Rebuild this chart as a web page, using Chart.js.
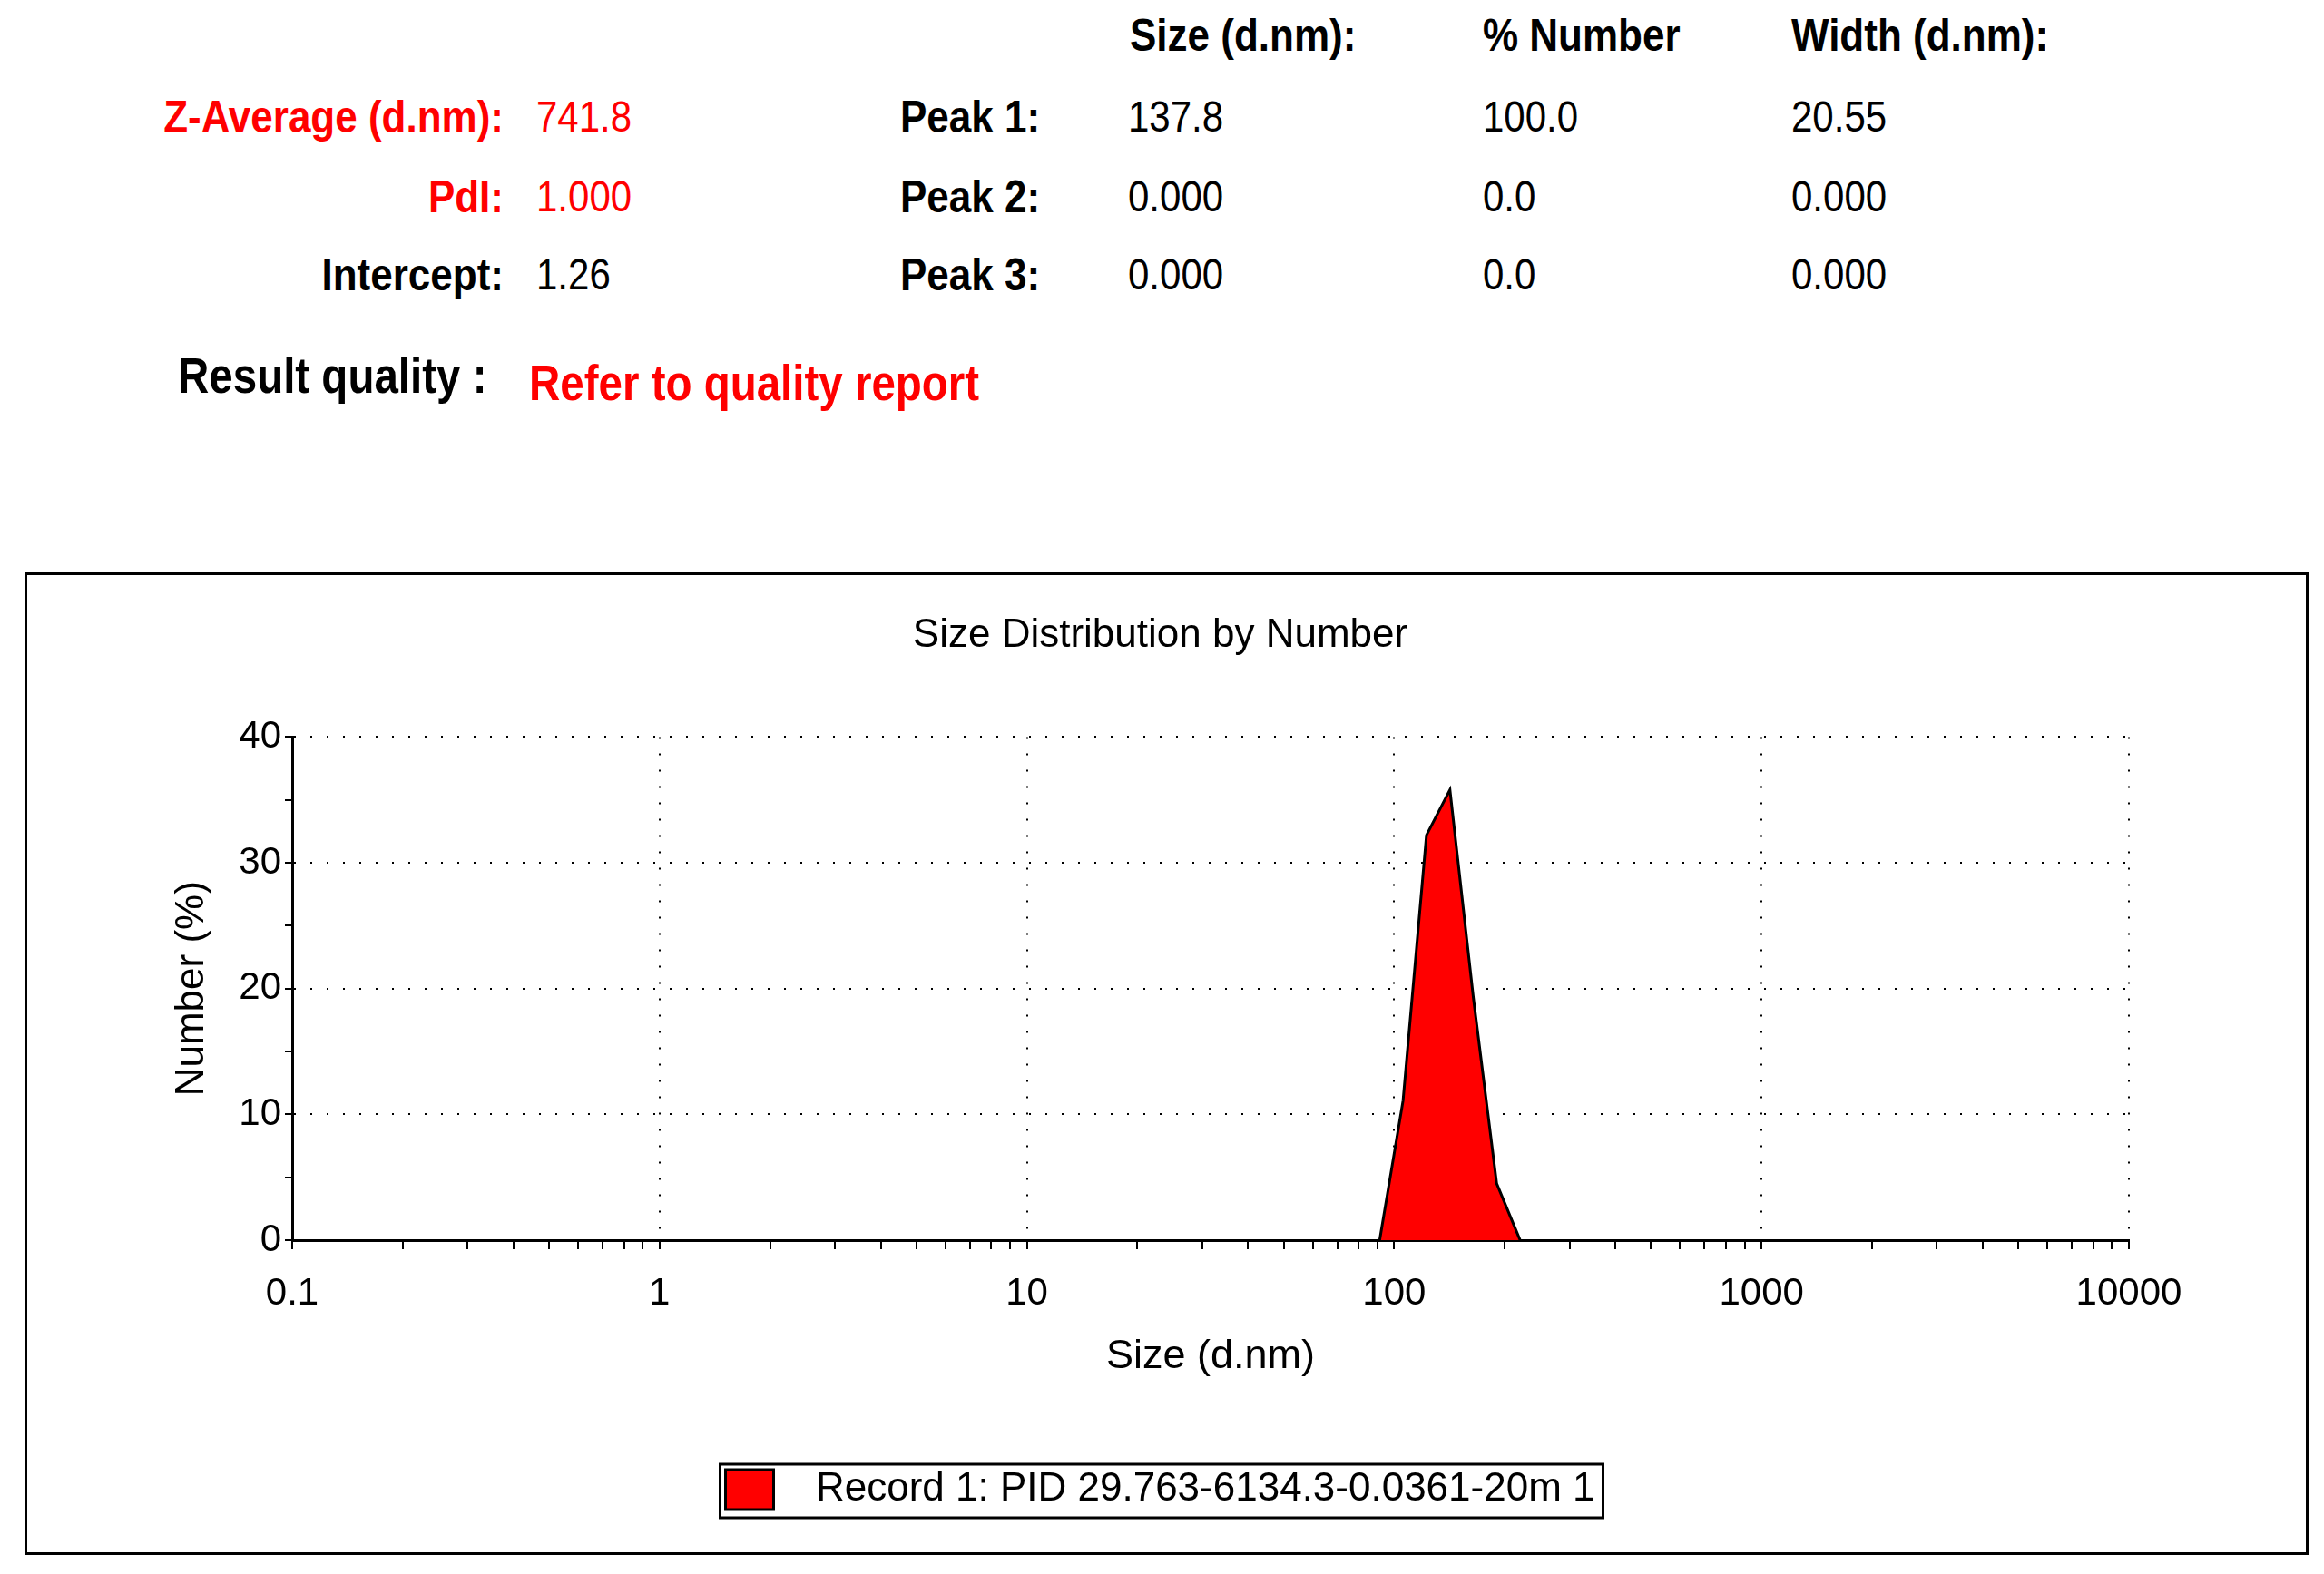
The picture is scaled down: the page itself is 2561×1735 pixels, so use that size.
<!DOCTYPE html>
<html>
<head>
<meta charset="utf-8">
<title>Size Distribution by Number</title>
<script src="https://cdn.jsdelivr.net/npm/chart.js@4.4.1/dist/chart.umd.min.js"></script>
<style>
  body { margin: 0; width: 2561px; height: 1735px; background: #fff; position: relative; overflow: hidden;
         font-family: "Liberation Sans", Arial, sans-serif; color: #000; }
  .t { position: absolute; line-height: 1; white-space: nowrap; font-size: 42px;
       transform: translateY(-50%) scaleY(1.15); }
  .b { font-weight: bold; font-size: 44px; }
  .red { color: #ff0000; }
  .big { font-size: 47.5px; }
  #frame { position: absolute; left: 27px; top: 631px; width: 2511px; height: 1077px; border: 3px solid #000; }
  #chart { display: block; }
</style>
</head>
<body>
<div id="frame"><canvas id="chart" width="2511" height="1077"></canvas></div>
<script>
// curve
const sizes = [91.28, 105.7, 122.4, 141.8, 164.2, 190.1, 220.2];   // d.nm
const numberPct = [0, 11.1, 32.2, 35.8, 19.3, 4.5, 0];            // Number (%)
const xTickLabels = [0.1, 1, 10, 100, 1000, 10000];
const yTickLabels = [0, 10, 20, 30, 40];
const recordLabel = 'Record 1: PID 29.763-6134.3-0.0361-20m 1';

// result table above the chart
const summaryNames = ['Z-Average (d.nm):', 'PdI:', 'Intercept:'];
const summaryValues = ['741.8', '1.000', '1.26'];
const summaryRed = [true, true, false];
const peakNames = ['Peak 1:', 'Peak 2:', 'Peak 3:'];
const peakSize = ['137.8', '0.000', '0.000'];
const peakNumber = ['100.0', '0.0', '0.0'];
const peakWidth = ['20.55', '0.000', '0.000'];

function addText(text, x, y, cls, alignRight) {
    const el = document.createElement('div');
    el.className = 't ' + (cls || '');
    el.textContent = text;
    el.style.top = y + 'px';
    if (alignRight) el.style.right = (2561 - x) + 'px';
    else el.style.left = x + 'px';
    document.body.appendChild(el);
}

addText('Size (d.nm):', 1245, 39, 'b');
addText('% Number', 1634, 39, 'b');
addText('Width (d.nm):', 1974, 39, 'b');

const rowY = [129, 217, 303];
rowY.forEach((y, i) => {
    const red = summaryRed[i] ? ' red' : '';
    addText(summaryNames[i], 555, y, 'b' + red, true);
    addText(summaryValues[i], 591, y, red);
    addText(peakNames[i], 992, y, 'b');
    addText(peakSize[i], 1243, y);
    addText(peakNumber[i], 1634, y);
    addText(peakWidth[i], 1974, y);
});

addText('Result quality :', 196, 414, 'b big');
addText('Refer to quality report', 583, 422, 'b big red');

// chart
const FONT = '"Liberation Sans", Arial, sans-serif';
const isDecade = v => Math.abs(Math.log10(v) - Math.round(Math.log10(v))) < 1e-6;

const legendFrame = {
    id: 'legendFrame',
    afterDraw(chart) {
        const box = chart.legend.legendHitBoxes[0];
        if (!box) return;
        const ctx = chart.ctx;
        ctx.save();
        ctx.strokeStyle = '#000';
        ctx.lineWidth = 3;
        ctx.strokeRect(box.left - 6, box.top - 6, box.width + 15, box.height + 15);
        ctx.restore();
    }
};

const ctx = document.getElementById('chart').getContext('2d');

new Chart(ctx, {
    type: 'line',
    data: {
        datasets: [{
            label: recordLabel,
            data: sizes.map((s, i) => ({ x: s, y: numberPct[i] })),
            borderColor: '#000',
            borderWidth: 3,
            backgroundColor: '#ff0000',
            fill: 'origin',
            pointRadius: 0,
            tension: 0
        }]
    },
    options: {
        responsive: false,
        animation: false,
        layout: { padding: { left: 181, right: 195, top: 10, bottom: 37 } },
        plugins: {
            title: {
                display: true,
                text: 'Size Distribution by Number',
                color: '#000',
                font: { family: FONT, size: 44, weight: 'normal' },
                padding: { top: 30, bottom: 85.6 }
            },
            legend: {
                position: 'bottom',
                labels: {
                    boxWidth: 53,
                    boxHeight: 44,
                    color: '#000',
                    font: { family: FONT, size: 44 },
                    generateLabels(chart) {
                        const items = Chart.defaults.plugins.legend.labels.generateLabels(chart);
                        items.forEach(it => { it.text = '  ' + it.text; });
                        return items;
                    }
                }
            },
            tooltip: { enabled: false }
        },
        scales: {
            x: {
                type: 'logarithmic',
                min: 0.1,
                max: 10000,
                afterBuildTicks: scale => {
                    scale.ticks = scale.ticks.filter(t => {
                        const s = t.value / Math.pow(10, Math.floor(Math.log10(t.value) + 1e-9));
                        return Math.abs(s - Math.round(s)) < 1e-6;
                    });
                },
                ticks: {
                    autoSkip: false,
                    maxRotation: 0,
                    color: '#000',
                    padding: 24,
                    font: { family: FONT, size: 42 },
                    callback: v => {
                        const m = xTickLabels.find(l => Math.abs(Math.log10(l) - Math.log10(v)) < 1e-6);
                        return m === undefined ? '' : String(m);
                    }
                },
                grid: {
                    color: c => (c.tick && isDecade(c.tick.value)) ? '#000' : 'rgba(0,0,0,0)',
                    lineWidth: 2,
                    tickColor: '#000',
                    tickLength: 10,
                    tickWidth: 2
                },
                border: { display: true, color: '#000', width: 3, dash: [2, 16] },
                title: {
                    display: true,
                    text: 'Size (d.nm)',
                    color: '#000',
                    font: { family: FONT, size: 45, lineHeight: 0.9 },
                    padding: { top: 0, bottom: 94 }
                }
            },
            y: {
                min: 0,
                max: 40,
                afterFit: scale => { scale.width = 111; },
                ticks: {
                    stepSize: 5,
                    color: '#000',
                    padding: 4,
                    font: { family: FONT, size: 42 },
                    callback: v => yTickLabels.includes(v) ? String(v) : ''
                },
                grid: {
                    color: c => (c.tick && yTickLabels.includes(c.tick.value)) ? '#000' : 'rgba(0,0,0,0)',
                    lineWidth: 2,
                    tickColor: '#000',
                    tickLength: 8,
                    tickWidth: 2
                },
                border: { display: true, color: '#000', width: 3, dash: [2, 16] },
                title: {
                    display: true,
                    text: 'Number (%)',
                    color: '#000',
                    font: { family: FONT, size: 44, lineHeight: 0.05 },
                    padding: { top: 0, bottom: 0 }
                }
            }
        }
    },
    plugins: [legendFrame]
});
</script>
</body>
</html>
